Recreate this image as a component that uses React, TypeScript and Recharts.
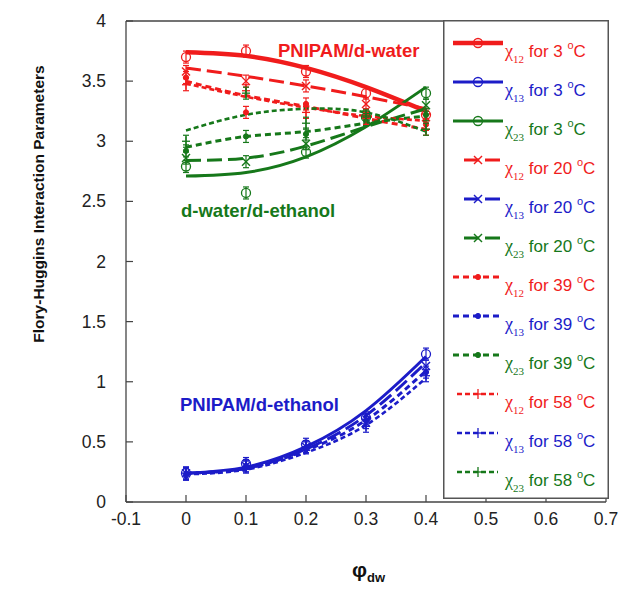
import React from "react";
import { ComposedChart, Line, Scatter, XAxis, YAxis } from "recharts";

const RED = "#f01c1c";
const BLUE = "#1c1cc8";
const GREEN = "#16781a";
const AXIS = "#444";
const FONT = "Liberation Sans, Arial, sans-serif";

// volume fraction of d-water where the parameters were measured
const phi = [0, 0.1, 0.2, 0.3, 0.4];

const xTicks = [-0.1, 0, 0.1, 0.2, 0.3, 0.4, 0.5, 0.6, 0.7];
const yTicks = [0, 0.5, 1, 1.5, 2, 2.5, 3, 3.5, 4];

// measured chi values (PNIPAM/d-water)
const chi12_3 = [3.7, 3.75, 3.58, 3.4, 3.22];
const chi12_20 = [3.58, 3.5, 3.46, 3.31, 3.2];
const chi12_39 = [3.53, 3.24, 3.31, 3.22, 3.14];
const chi12_58 = [3.47, 3.42, 3.24, 3.19, 3.1];
// measured chi values (PNIPAM/d-ethanol)
const chi13_3 = [0.24, 0.32, 0.48, 0.7, 1.23];
const chi13_20 = [0.24, 0.3, 0.46, 0.66, 1.13];
const chi13_39 = [0.23, 0.3, 0.45, 0.68, 1.08];
const chi13_58 = [0.24, 0.29, 0.46, 0.63, 1.05];
// measured chi values (d-water/d-ethanol)
const chi23_3 = [2.79, 2.57, 2.91, 3.2, 3.4];
const chi23_20 = [2.86, 2.83, 2.98, 3.22, 3.3];
const chi23_39 = [2.92, 3.04, 3.06, 3.18, 3.22];
const chi23_58 = [3.0, 3.4, 3.15, 3.21, 3.1];

// fitted curves
const fit12_3 = [3.74, 3.71, 3.61, 3.45, 3.25];
const fit12_20 = [3.61, 3.54, 3.46, 3.37, 3.27];
const fit12_39 = [3.5, 3.38, 3.29, 3.19, 3.1];
const fit12_58 = [3.48, 3.37, 3.28, 3.21, 3.17];
const fit13_3 = [0.24, 0.29, 0.46, 0.76, 1.21];
const fit13_20 = [0.24, 0.28, 0.44, 0.72, 1.16];
const fit13_39 = [0.24, 0.28, 0.43, 0.68, 1.09];
const fit13_58 = [0.23, 0.27, 0.41, 0.64, 1.03];
const fit23_3 = [2.71, 2.74, 2.87, 3.12, 3.45];
const fit23_20 = [2.84, 2.86, 2.96, 3.12, 3.27];
const fit23_39 = [2.95, 3.04, 3.08, 3.15, 3.21];
const fit23_58 = [3.09, 3.22, 3.27, 3.24, 3.08];

type Kind = "circle" | "cross" | "dot" | "plus";

const tempStyle: Record<number, { kind: Kind; dash?: string; width: number; sample: [number, number] }> = {
  3: { kind: "circle", width: 3, sample: [10, 60] },
  20: { kind: "cross", dash: "15 6", width: 3, sample: [21, 57] },
  39: { kind: "dot", dash: "6 4", width: 3, sample: [10, 59] },
  58: { kind: "plus", dash: "5 3", width: 2.6, sample: [14, 55] },
};

const toPoints = (ys: number[]) => phi.map((x, i) => ({ x, y: ys[i] }));

const series = [
  { pair: "12", temp: 3, color: RED, measured: chi12_3, fit: fit12_3, gap: "" },
  { pair: "13", temp: 3, color: BLUE, measured: chi13_3, fit: fit13_3, gap: " " },
  { pair: "23", temp: 3, color: GREEN, measured: chi23_3, fit: fit23_3, gap: "" },
  { pair: "12", temp: 20, color: RED, measured: chi12_20, fit: fit12_20, gap: "" },
  { pair: "13", temp: 20, color: BLUE, measured: chi13_20, fit: fit13_20, gap: "" },
  { pair: "23", temp: 20, color: GREEN, measured: chi23_20, fit: fit23_20, gap: "" },
  { pair: "12", temp: 39, color: RED, measured: chi12_39, fit: fit12_39, gap: "" },
  { pair: "13", temp: 39, color: BLUE, measured: chi13_39, fit: fit13_39, gap: "" },
  { pair: "23", temp: 39, color: GREEN, measured: chi23_39, fit: fit23_39, gap: "" },
  { pair: "12", temp: 58, color: RED, measured: chi12_58, fit: fit12_58, gap: "" },
  { pair: "13", temp: 58, color: BLUE, measured: chi13_58, fit: fit13_58, gap: "" },
  { pair: "23", temp: 58, color: GREEN, measured: chi23_58, fit: fit23_58, gap: "" },
];

function Marker({ cx, cy, kind, color, bar = 0 }: { cx: number; cy: number; kind: Kind; color: string; bar?: number }) {
  const errorBar = bar > 0 && (
    <g stroke={color} strokeWidth={1.2}>
      <line x1={cx} x2={cx} y1={cy - bar} y2={cy + bar} />
      <line x1={cx - 3} x2={cx + 3} y1={cy - bar} y2={cy - bar} />
      <line x1={cx - 3} x2={cx + 3} y1={cy + bar} y2={cy + bar} />
    </g>
  );
  if (kind === "circle") {
    return (
      <g>
        {errorBar}
        <circle cx={cx} cy={cy} r={4.5} fill="none" stroke={color} strokeWidth={1.3} />
      </g>
    );
  }
  if (kind === "cross") {
    return (
      <g stroke={color} strokeWidth={1.4}>
        {errorBar}
        <line x1={cx - 4} x2={cx + 4} y1={cy - 4} y2={cy + 4} />
        <line x1={cx - 4} x2={cx + 4} y1={cy + 4} y2={cy - 4} />
      </g>
    );
  }
  if (kind === "dot") {
    return (
      <g>
        {errorBar}
        <circle cx={cx} cy={cy} r={2.6} fill={color} stroke={color} strokeWidth={1} />
      </g>
    );
  }
  return (
    <g stroke={color} strokeWidth={1.3}>
      {errorBar}
      <line x1={cx - 4} x2={cx + 4} y1={cy} y2={cy} />
      <line x1={cx} x2={cx} y1={cy - 5} y2={cy + 5} />
    </g>
  );
}

function BottomTick({ x, y, payload }: any) {
  return (
    <g>
      <line x1={x} x2={x} y1={y} y2={y - 7} stroke={AXIS} strokeWidth={1.2} />
      <text x={x} y={y + 23} textAnchor="middle" fontSize={17.5} fontFamily={FONT} fill="#222">
        {payload.value}
      </text>
    </g>
  );
}

function TopTick({ x, y }: any) {
  return <line x1={x} x2={x} y1={y} y2={y + 7} stroke={AXIS} strokeWidth={1.2} />;
}

function LeftTick({ x, y, payload }: any) {
  return (
    <g>
      <line x1={x} x2={x + 7} y1={y} y2={y} stroke={AXIS} strokeWidth={1.2} />
      <text x={x - 20} y={y + 6} textAnchor="end" fontSize={17.5} fontFamily={FONT} fill="#222">
        {payload.value}
      </text>
    </g>
  );
}

function LegendBox() {
  return (
    <svg
      width={166}
      height={479}
      style={{ position: "absolute", left: 443, top: 20 }}
    >
      <rect x={0.75} y={0.75} width={164.5} height={477.5} fill="#fff" stroke="#555" strokeWidth={1.5} />
      {series.map((s, i) => {
        const st = tempStyle[s.temp];
        const y = 23 + 39 * i;
        const w = s.pair === "12" && s.temp === 3 ? 4.5 : st.width;
        return (
          <g key={i}>
            <line
              x1={st.sample[0]}
              x2={st.sample[1]}
              y1={y}
              y2={y}
              stroke={s.color}
              strokeWidth={w}
              strokeDasharray={st.dash}
            />
            <Marker cx={35} cy={y} kind={st.kind} color={s.color} />
            <text x={62} y={y + 14} fill={s.color} fontSize={17} fontFamily={FONT}>
              <tspan fontFamily="Liberation Serif, serif" fontSize={18}>χ</tspan>
              <tspan fontFamily="Liberation Serif, serif" fontSize={11} dy={6}>
                {s.pair}
              </tspan>
              <tspan dy={-6}>{`${s.gap} for ${s.temp} `}</tspan>
              <tspan fontSize={11} dy={-8}>o</tspan>
              <tspan dy={8}>C</tspan>
            </text>
          </g>
        );
      })}
    </svg>
  );
}

function Annotations() {
  return (
    <svg width={622} height={590} style={{ position: "absolute", left: 0, top: 0, pointerEvents: "none" }}>
      <text x={278} y={57} fontSize={18.5} fontWeight="bold" fontFamily={FONT} fill={RED}>
        PNIPAM/d-water
      </text>
      <text x={181} y={217} fontSize={18.5} fontWeight="bold" fontFamily={FONT} fill={GREEN}>
        d-water/d-ethanol
      </text>
      <text x={180} y={411} fontSize={18.5} fontWeight="bold" fontFamily={FONT} fill={BLUE}>
        PNIPAM/d-ethanol
      </text>
      <text
        transform="translate(44 204) rotate(-90)"
        textAnchor="middle"
        fontSize={15.5}
        fontWeight="bold"
        fontFamily={FONT}
        fill="#111"
      >
        Flory-Huggins Interaction Parameters
      </text>
      <text x={352} y={577} fontSize={21} fontWeight="bold" fontFamily={FONT} fill="#111">
        φ
        <tspan fontSize={13} dy={5}>dw</tspan>
      </text>
    </svg>
  );
}

export default function App() {
  return (
    <div style={{ position: "absolute", left: 0, top: 0, width: 622, height: 590, background: "#fff" }}>
      <ComposedChart width={622} height={590} margin={{ top: 20, right: 16, bottom: 58, left: 66 }}>
        <XAxis
          dataKey="x"
          type="number"
          domain={[-0.1, 0.7]}
          ticks={xTicks}
          interval={0}
          height={30}
          tickSize={0}
          tickMargin={0}
          tickLine={false}
          axisLine={{ stroke: AXIS, strokeWidth: 1.3 }}
          tick={<BottomTick />}
          allowDataOverflow
        />
        <XAxis
          xAxisId="top"
          orientation="top"
          type="number"
          domain={[-0.1, 0.7]}
          ticks={xTicks}
          interval={0}
          height={1}
          tickSize={0}
          tickMargin={0}
          tickLine={false}
          axisLine={{ stroke: AXIS, strokeWidth: 1.3 }}
          tick={<TopTick />}
        />
        <YAxis
          type="number"
          domain={[0, 4]}
          ticks={yTicks}
          interval={0}
          width={60}
          tickSize={0}
          tickMargin={0}
          tickLine={false}
          axisLine={{ stroke: AXIS, strokeWidth: 1.3 }}
          tick={<LeftTick />}
          allowDataOverflow
        />
        {series.map((s, i) => {
          const st = tempStyle[s.temp];
          return (
            <Line
              key={`fit-${i}`}
              data={toPoints(s.fit)}
              dataKey="y"
              type="natural"
              stroke={s.color}
              strokeWidth={s.pair === "12" && s.temp === 3 ? 4.5 : st.width}
              strokeDasharray={st.dash}
              dot={false}
              activeDot={false}
              isAnimationActive={false}
            />
          );
        })}
        {series.map((s, i) => {
          const st = tempStyle[s.temp];
          return (
            <Scatter
              key={`pts-${i}`}
              data={toPoints(s.measured)}
              dataKey="y"
              isAnimationActive={false}
              shape={(p: any) => <Marker cx={p.cx} cy={p.cy} kind={st.kind} color={s.color} bar={6} />}
            />
          );
        })}
      </ComposedChart>
      <Annotations />
      <LegendBox />
    </div>
  );
}
